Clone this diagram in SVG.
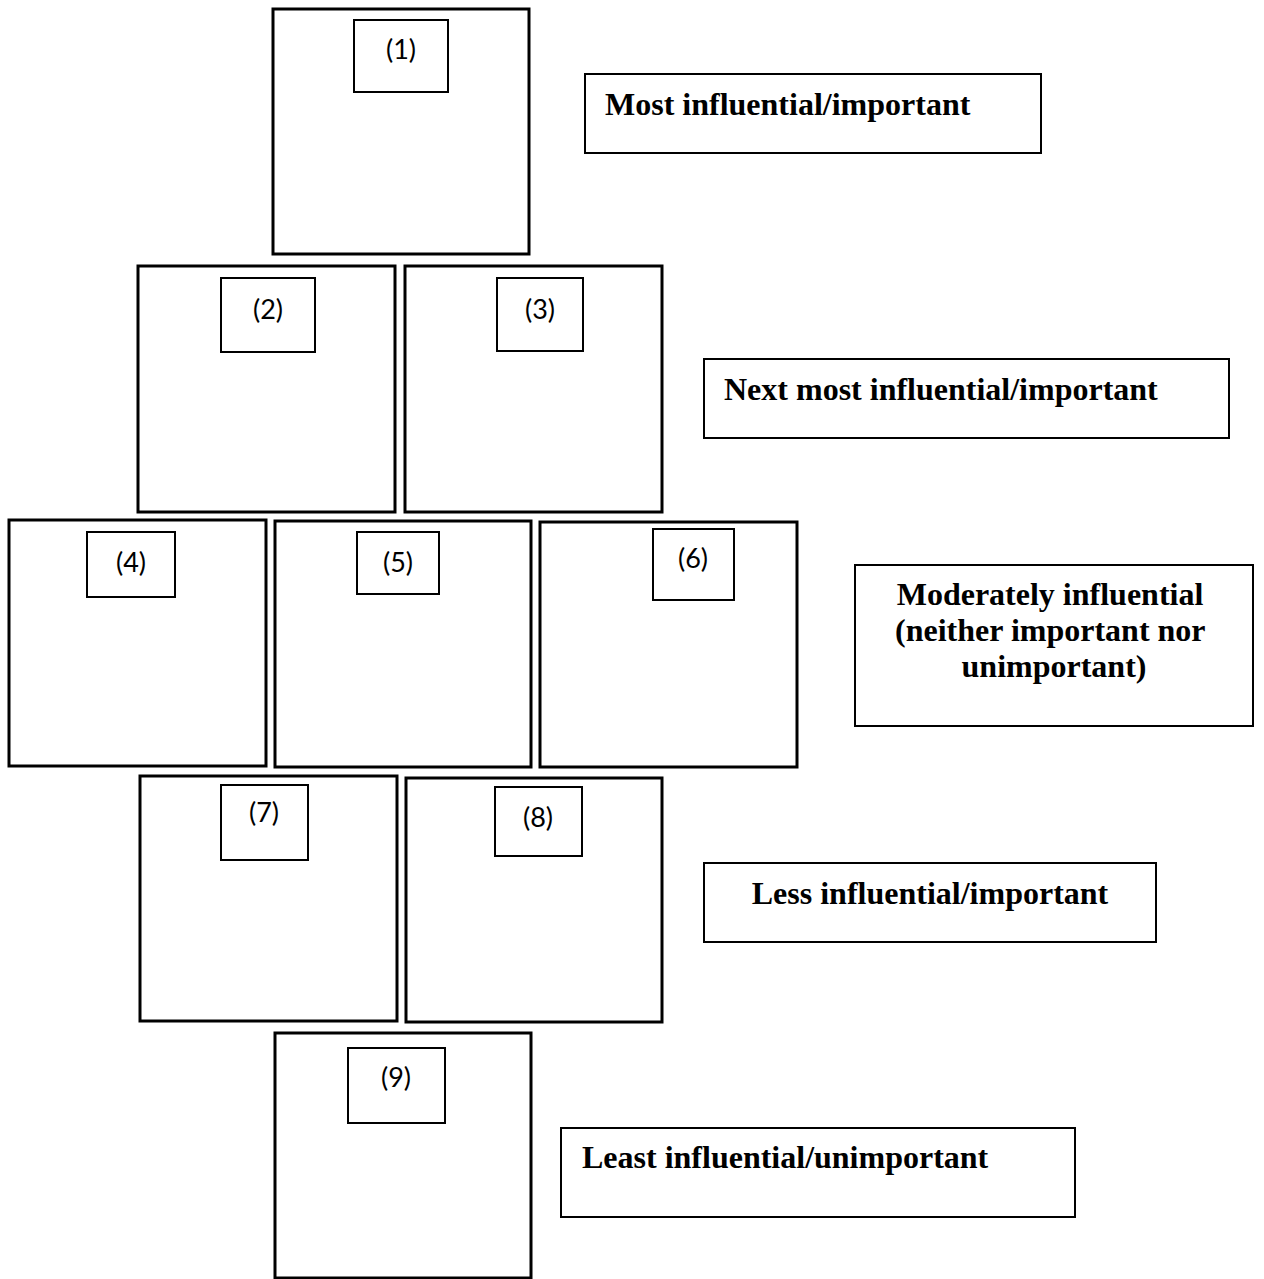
<svg xmlns="http://www.w3.org/2000/svg" width="1264" height="1279" viewBox="0 0 1264 1279">
  <style>
    .card { fill: #ffffff; stroke: #000000; stroke-width: 3; }
    .tag { fill: #ffffff; stroke: #000000; stroke-width: 2; }
    .rank { font-family: Lato, "Open Sans", sans-serif; font-size: 27px; fill: #000000; text-anchor: middle; }
    .note { fill: #ffffff; stroke: #000000; stroke-width: 2; }
    .level { font-family: "Liberation Serif", "Times New Roman", serif; font-weight: bold; font-size: 32px; fill: #000000; }
  </style>
  <rect x="0" y="0" width="1264" height="1279" fill="#ffffff"/>

  <!-- ranked cards, one group each -->
  <g id="card1">
    <rect class="card" x="273" y="9" width="256" height="245"/>
    <rect class="tag" x="354" y="20" width="94" height="72"/>
    <text class="rank" x="401" y="59">(1)</text>
  </g>
  <g id="card2">
    <rect class="card" x="138" y="266" width="257" height="246"/>
    <rect class="tag" x="221" y="278" width="94" height="74"/>
    <text class="rank" x="268" y="319">(2)</text>
  </g>
  <g id="card3">
    <rect class="card" x="405" y="266" width="257" height="246"/>
    <rect class="tag" x="497" y="278" width="86" height="73"/>
    <text class="rank" x="540" y="319">(3)</text>
  </g>
  <g id="card4">
    <rect class="card" x="9" y="520" width="257" height="246"/>
    <rect class="tag" x="87" y="532" width="88" height="65"/>
    <text class="rank" x="131" y="572">(4)</text>
  </g>
  <g id="card5">
    <rect class="card" x="275" y="521" width="256" height="246"/>
    <rect class="tag" x="357" y="532" width="82" height="62"/>
    <text class="rank" x="398" y="572">(5)</text>
  </g>
  <g id="card6">
    <rect class="card" x="540" y="522" width="257" height="245"/>
    <rect class="tag" x="653" y="529" width="81" height="71"/>
    <text class="rank" x="693" y="568">(6)</text>
  </g>
  <g id="card7">
    <rect class="card" x="140" y="776" width="257" height="245"/>
    <rect class="tag" x="221" y="785" width="87" height="75"/>
    <text class="rank" x="264" y="822">(7)</text>
  </g>
  <g id="card8">
    <rect class="card" x="406" y="778" width="256" height="244"/>
    <rect class="tag" x="495" y="787" width="87" height="69"/>
    <text class="rank" x="538" y="827">(8)</text>
  </g>
  <g id="card9">
    <rect class="card" x="275" y="1033" width="256" height="245"/>
    <rect class="tag" x="348" y="1048" width="97" height="75"/>
    <text class="rank" x="396" y="1087">(9)</text>
  </g>

  <!-- level captions -->
  <g id="level-most">
    <rect class="note" x="585" y="74" width="456" height="79"/>
    <text class="level" x="605" y="115">Most influential/important</text>
  </g>
  <g id="level-next">
    <rect class="note" x="704" y="359" width="525" height="79"/>
    <text class="level" x="724" y="400">Next most influential/important</text>
  </g>
  <g id="level-moderate">
    <rect class="note" x="855" y="565" width="398" height="161"/>
    <text class="level" text-anchor="middle">
      <tspan x="1054" y="605">Moderately influential</tspan>
      <tspan x="1054" y="641">(neither important nor</tspan>
      <tspan x="1054" y="677">unimportant)</tspan>
    </text>
  </g>
  <g id="level-less">
    <rect class="note" x="704" y="863" width="452" height="79"/>
    <text class="level" x="930" y="904" text-anchor="middle">Less influential/important</text>
  </g>
  <g id="level-least">
    <rect class="note" x="561" y="1128" width="514" height="89"/>
    <text class="level" x="582" y="1168">Least influential/unimportant</text>
  </g>

  <!-- no connectors in this layout -->
  <g id="connectors"/>
</svg>
